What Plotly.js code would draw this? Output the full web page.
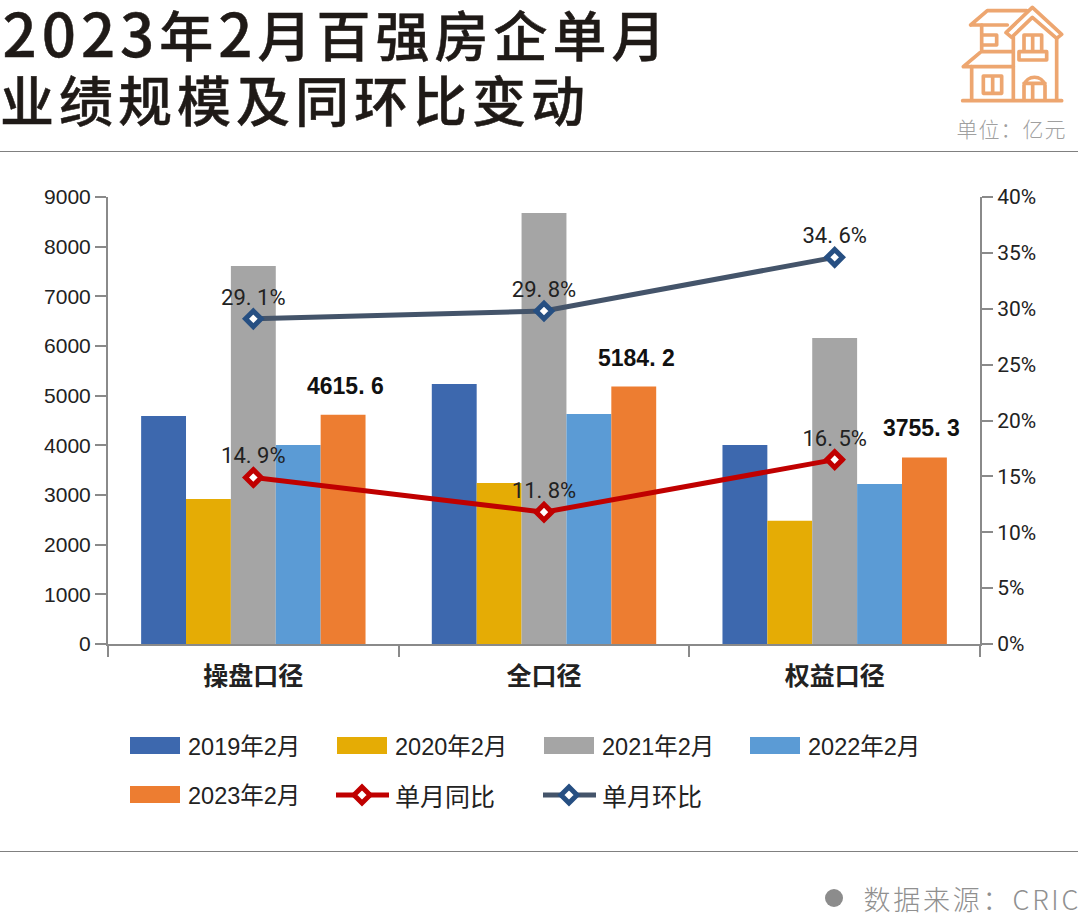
<!DOCTYPE html>
<html>
<head>
<meta charset="utf-8">
<script src="https://cdn.plot.ly/plotly-3.0.1.min.js"></script>
<style>
  body { margin: 0; background: #fff; }
  #wrap { position: relative; width: 1080px; height: 923px; overflow: hidden; }
  #house { position: absolute; left: 900px; top: 0; }
  /* plotly has no letter spacing for annotations */
  g.annotation[data-index="0"] text, g.annotation[data-index="1"] text { letter-spacing: 5px; stroke: #1f1a17; stroke-width: 0.5px; }
  g.annotation[data-index="2"] text { letter-spacing: 1px; }
  g.annotation[data-index="3"] text { letter-spacing: 2.8px; }
</style>
</head>
<body>
<div id="wrap">
  <div id="myPlot" style="width:1080px;height:923px"></div>
  <!-- house icon, top right -->
  <svg id="house" width="180" height="160" viewBox="0 0 540 480" fill="none" stroke="#EDA670" stroke-width="11" stroke-linejoin="round" stroke-linecap="round">
    <path d="M188 302H485"/>
    <path d="M318 98L397 22L485 103L470 115L397 52L335 112Z"/>
    <path d="M212 75L262 32H380M212 75H322"/>
    <path d="M245 75V155H335M245 105H290V135H245"/>
    <path d="M190 200L240 158M190 200H340"/>
    <path d="M215 200V300M340 112V300M470 118V300"/>
    <path d="M250 228H305V280H250ZM278 228V280"/>
    <path d="M357 155H440V180H357ZM372 155V105H425V155M398 105V155"/>
    <path d="M372 300V255A33 33 0 0 1 435 255V300M372 250H435M398 250V300"/>
  </svg>
</div>
<script>
// Categories and series
const categories = ['操盘口径', '全口径', '权益口径'];
const y2019 = [4590, 5235, 4007];
const y2020 = [2920, 3240, 2480];
const y2021 = [7610, 8680, 6160];
const y2022 = [4007, 4630, 3220];
const y2023 = [4615.6, 5184.2, 3755.3];
const tongbi = [14.9, 11.8, 16.5];
const huanbi = [29.1, 29.8, 34.6];

// Labels as printed in the picture
const y2023Labels = ['4615. 6', '5184. 2', '3755. 3'];
const tongbiLabels = ['14. 9%', '11. 8%', '16. 5%'];
const huanbiLabels = ['29. 1%', '29. 8%', '34. 6%'];

const barNames = ['2019年2月', '2020年2月', '2021年2月', '2022年2月', '2023年2月'];
const barColors = ['#3D68AE', '#E5AC05', '#A5A5A5', '#5B9BD5', '#ED7D31'];
const barValues = [y2019, y2020, y2021, y2022, y2023];
const RED = '#C00000', NAVY = '#264F82', NAVYLINE = '#44546A';

const W = 1080, H = 923;
const M = {l: 108, r: 100, t: 197, b: 279};
const FONT = '"Liberation Sans", "Noto Sans CJK SC", sans-serif';
const CJK = '"Noto Sans CJK SC", sans-serif';

// pixel -> paper
const px = x => (x - M.l) / (W - M.l - M.r);
const py = y => 1 - (y - M.t) / (H - M.t - M.b);

function label(x, y, text, size, color, extra) {
  return Object.assign({
    xref: 'paper', yref: 'paper', x: px(x), y: py(y), text: text, showarrow: false,
    xanchor: 'left', yanchor: 'middle', borderpad: 0,
    font: {family: FONT, size: size, color: color}
  }, extra || {});
}
function hline(x0, x1, y, color, w) {
  return {type: 'line', xref: 'paper', yref: 'paper', x0: px(x0), x1: px(x1), y0: py(y), y1: py(y), line: {color: color, width: w}};
}

const data = barNames.map((name, i) => ({
  type: 'bar', name: name, x: categories, y: barValues[i],
  marker: {color: barColors[i]}, showlegend: false, cliponaxis: false
}));
function lineTrace(name, values, labels, lineColor, markerColor) {
  return {
    type: 'scatter', mode: 'lines+markers+text', name: name, x: categories, y: values, yaxis: 'y2',
    text: labels, textposition: 'top center',
    textfont: {family: 'Roboto, sans-serif', size: 22, color: '#222'},
    line: {color: lineColor, width: 5},
    marker: {symbol: 'diamond', size: 12, color: '#fff', line: {color: markerColor, width: 5}},
    showlegend: false, cliponaxis: false
  };
}
data.push(lineTrace('单月同比', tongbi, tongbiLabels, RED, RED));
data.push(lineTrace('单月环比', huanbi, huanbiLabels, NAVYLINE, NAVY));

// header, footer, manual legend (wide swatches)
const TITLE_FONT = {family: CJK, size: 54, color: '#1f1a17', weight: 500};
const digits = s => `<span style="font-size:60px">${s}</span>`;
const shapes = [hline(0, 1078, 151.5, '#808080', 1), hline(0, 1078, 851.5, '#808080', 1)];
const annotations = [
  label(336, 30, `${digits('2023')}年${digits('2')}月百强房企单月`, 54, '#1f1a17', {font: TITLE_FONT, xanchor: 'center'}),
  label(295, 98, '业绩规模及同环比变动', 54, '#1f1a17', {font: TITLE_FONT, xanchor: 'center'}),
  label(957.5, 128, '单位：亿元', 21, '#a0a0a0', {font: {family: CJK, size: 21, color: '#a0a0a0', weight: 300}}),
  label(875, 898, '数据来源：CRIC', 27, '#909090', {font: {family: CJK, size: 27, color: '#909090', weight: 300}})
];
shapes.push({type: 'circle', xref: 'paper', yref: 'paper', x0: px(825), x1: px(843), y0: py(889), y1: py(907), fillcolor: '#8c8c8c', line: {width: 0}});

const legendX = [130, 337, 544, 750];
const legendY = [746, 795];
barNames.forEach((name, i) => {
  const col = i % 4, row = Math.floor(i / 4);
  const x = legendX[col], y = legendY[row];
  shapes.push({type: 'rect', xref: 'paper', yref: 'paper', x0: px(x), x1: px(x + 50), y0: py(y - 9), y1: py(y + 8), fillcolor: barColors[i], line: {width: 0}});
  annotations.push(label(x + 57, y + 1, name, 23.5, '#222'));
});
[['单月同比', RED, RED, 1], ['单月环比', NAVYLINE, NAVY, 2]].forEach(e => {
  const x = legendX[e[3]], y = legendY[1];
  shapes.push(hline(x - 1, x + 52, y, e[1], 5));
  const c = x + 25, r = 8;
  shapes.push({type: 'path', xref: 'paper', yref: 'paper',
    path: `M${px(c - r)},${py(y)}L${px(c)},${py(y - r)}L${px(c + r)},${py(y)}L${px(c)},${py(y + r)}Z`,
    fillcolor: '#fff', line: {color: e[2], width: 5}});
  annotations.push(label(x + 57, y, e[0], 25, '#222', {font: {family: CJK, size: 25, color: '#222'}}));
});

// 2023 labels sit well above their bars
y2023.forEach((v, i) => {
  annotations.push({
    xref: 'x', yref: 'y', x: i, y: v, xshift: [92, 92, 87][i], yshift: 29,
    text: y2023Labels[i], showarrow: false, xanchor: 'center', yanchor: 'middle',
    font: {family: FONT, size: 23, color: '#111', weight: 700}
  });
});

const axisLine = '#8a8a8a';
const layout = {
  width: W, height: H, margin: M,
  paper_bgcolor: '#fff', plot_bgcolor: '#fff',
  barmode: 'group', bargap: 0.228, bargroupgap: 0,
  showlegend: false,
  font: {family: FONT},
  xaxis: {
    type: 'category', tickson: 'boundaries', ticks: 'outside', ticklen: 11, tickwidth: 2, tickcolor: axisLine,
    showline: true, linecolor: axisLine, linewidth: 2, showgrid: false, ticklabelstandoff: 9,
    tickfont: {family: CJK, size: 25, color: '#222', weight: 700}
  },
  yaxis: {
    range: [0, 9000], dtick: 1000, ticks: 'outside', ticklen: 11, tickwidth: 2, tickcolor: axisLine,
    showline: true, linecolor: axisLine, linewidth: 2, showgrid: false, zeroline: false,
    tickfont: {family: FONT, size: 21, color: '#222'}
  },
  yaxis2: {
    overlaying: 'y', side: 'right', range: [0, 40], dtick: 5, ticks: 'outside', ticklen: 11, tickwidth: 2, tickcolor: axisLine,
    ticksuffix: '%',
    showline: true, linecolor: axisLine, linewidth: 2, showgrid: false, zeroline: false,
    tickfont: {family: 'Roboto, sans-serif', size: 21, color: '#222'}
  },
  shapes: shapes,
  annotations: annotations
};

Plotly.newPlot('myPlot', data, layout, {displayModeBar: false});
</script>
</body>
</html>
